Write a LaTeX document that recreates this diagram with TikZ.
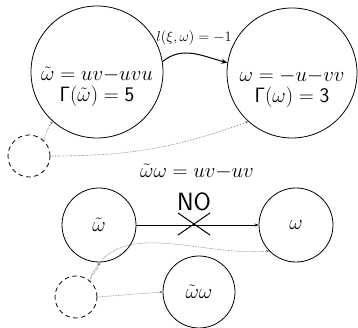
\documentclass[tikz,border=0pt]{standalone}
\usepackage{amsmath,amssymb}
\usepackage{tikz}
\usetikzlibrary{arrows.meta,positioning,calc}
\definecolor{hintgray}{gray}{0.4}

\begin{document}
\begin{tikzpicture}[x=1pt,y=1pt,
  state/.style={draw,circle,line width=0.8pt,inner sep=0pt,font=\huge,align=center},
  ghost/.style={draw,circle,line width=0.8pt,inner sep=0pt,minimum size=42pt,dash pattern=on 4.5pt off 3.5pt},
  hint/.style={draw=hintgray,densely dotted,line width=0.6pt,-{Stealth[length=3pt,width=2.5pt]}}]
\useasboundingbox (0,0) rectangle (358,328);
% top: a move that lowers Gamma
\begin{scope}
\node[state,minimum size=132pt] (wt) at (97,256)
  {\rule{0pt}{44pt}$\tilde{\omega} = uv{-}uvu$\\[-4pt]$\mathsf{\Gamma(}\tilde{\omega}\mathsf{)} = \mathsf{5}$};
\node[state,minimum size=130pt] (w) at (292,255)
  {\rule{0pt}{44pt}$\omega = {-}u{-}vv$\\[-4pt]$\mathsf{\Gamma(}\omega\mathsf{)} = \mathsf{3}$};
\draw[line width=1pt,-{Stealth[length=6pt,width=5pt]}] (wt.9) to[out=40,in=165] (w.171);
\node[font=\Large,inner sep=1pt] (lab) at (194,290) {$l(\xi,\omega) = -1$};
\node[ghost] (g1) at (29,172) {};
\draw[hint] (g1.north east) to[out=80,in=235] (wt.228);
\draw[hint] (g1.east) to[out=0,in=200] (w.228);
\node[font=\huge,inner sep=1pt] (prod) at (197,156) {$\tilde{\omega}\omega = uv{-}uv$};
\end{scope}
% bottom: the product has no such move
\begin{scope}
\node[state,minimum size=74pt] (a) at (99,103) {$\tilde{\omega}$};
\node[state,minimum size=74pt] (b) at (296,103) {$\omega$};
\node[state,minimum size=72pt] (c) at (199,36) {$\tilde{\omega}\omega$};
\draw[line width=0.8pt,-{Stealth[length=4pt,width=3pt]}] (a) -- (b);
\node[font=\fontsize{25}{28}\selectfont\sffamily,inner sep=1pt] (no) at (194,126) {NO};
\coordinate (xc) at (194,104);
\draw[line width=1pt] ($(xc)+(-16,-11)$) -- ($(xc)+(16,11)$);
\draw[line width=1pt] ($(xc)+(-16,11)$) -- ($(xc)+(16,-11)$);
\node[ghost] (g2) at (76,31) {};
\draw[hint] (g2.50) to[out=80,in=-90] (a.south);
\draw[hint] (g2.50) to[out=70,in=185] (b.224);
\draw[hint] (g2.east) -- (c.west);
\end{scope}
\end{tikzpicture}
\end{document}
